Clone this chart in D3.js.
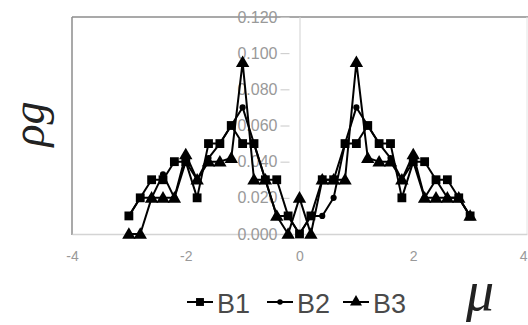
<!DOCTYPE html>
<html>
<head>
<meta charset="utf-8">
<script src="https://cdn.jsdelivr.net/npm/d3@7"></script>
<style>
  html, body { margin: 0; padding: 0; background: #fff; }
  svg { display: block; }
</style>
</head>
<body>
<svg id="chart" width="528" height="325"></svg>
<script>
// mu positions shared by all three series
const mu = [-3.0, -2.8, -2.6, -2.4, -2.2, -2.0, -1.8, -1.6, -1.4, -1.2, -1.0, -0.8, -0.6, -0.4, -0.2, 0.0,
             0.2,  0.4,  0.6,  0.8,  1.0,  1.2,  1.4,  1.6,  1.8,  2.0,  2.2,  2.4,  2.6,  2.8,  3.0];

const B1 = [0.010, 0.020, 0.030, 0.030, 0.040, 0.040, 0.020, 0.050, 0.050, 0.060, 0.050, 0.050, 0.030, 0.030, 0.010, 0.000,
            0.010, 0.030, 0.030, 0.050, 0.050, 0.060, 0.050, 0.050, 0.020, 0.040, 0.040, 0.030, 0.030, 0.020, 0.010];
const B2 = [0.010, 0.020, 0.020, 0.033, 0.020, 0.040, 0.030, 0.042, 0.050, 0.060, 0.070, 0.050, 0.030, 0.010, 0.010, 0.000,
            0.010, 0.010, 0.020, 0.050, 0.070, 0.060, 0.050, 0.042, 0.030, 0.040, 0.020, 0.030, 0.020, 0.020, 0.010];
const B3 = [0.000, 0.000, 0.020, 0.020, 0.020, 0.044, 0.030, 0.040, 0.040, 0.042, 0.095, 0.030, 0.030, 0.010, 0.000, 0.020,
            0.000, 0.030, 0.030, 0.030, 0.095, 0.042, 0.040, 0.040, 0.030, 0.044, 0.020, 0.020, 0.020, 0.020, 0.010];

const seriesNames = ["B1", "B2", "B3"];
const xTicks = [-4, -2, 0, 2, 4];
const yTicks = [0, 0.02, 0.04, 0.06, 0.08, 0.10, 0.12];

const svg = d3.select("#chart");
const plotLeft = 72, plotRight = 527, plotTop = 17, plotBottom = 234;

const x = d3.scaleLinear().domain([-4, 4]).range([plotLeft, plotRight]);
const y = d3.scaleLinear().domain([0, 0.12]).range([plotBottom, plotTop]);

// plot area frame
svg.append("line").attr("x1", plotLeft).attr("x2", 528).attr("y1", plotTop).attr("y2", plotTop)
  .attr("stroke", "#8c8c8c").attr("stroke-width", 1.5);
svg.append("line").attr("x1", plotLeft).attr("x2", plotLeft).attr("y1", plotTop).attr("y2", plotBottom + 1)
  .attr("stroke", "#8c8c8c").attr("stroke-width", 1.5);
svg.append("line").attr("x1", plotRight).attr("x2", plotRight).attr("y1", plotTop).attr("y2", plotBottom)
  .attr("stroke", "#e4e4e4").attr("stroke-width", 1);

// horizontal axis along rho = 0 (plain hyphen for negatives)
const xAxis = d3.axisBottom(x).tickValues(xTicks).tickSize(0).tickPadding(17)
  .tickFormat(d => String(d));
const gx = svg.append("g").attr("transform", `translate(0,${y(0)})`).call(xAxis);
gx.select(".domain").attr("stroke", "#d4d4d4").attr("stroke-width", 1.5);
gx.selectAll("text").attr("font-family", "Liberation Sans, Arial, sans-serif")
  .attr("font-size", 14).attr("fill", "#999");
// last label sits against the right edge
gx.selectAll(".tick").filter(d => d === xTicks[xTicks.length - 1]).select("text")
  .attr("text-anchor", "end").attr("dx", 0);

// vertical axis along mu = 0, labels to its left
const yAxis = d3.axisLeft(y).tickValues(yTicks).tickSize(0).tickPadding(22)
  .tickFormat(d3.format(".3f"));
const gy = svg.append("g").attr("transform", `translate(${x(0)},0)`).call(yAxis);
gy.select(".domain").attr("stroke", "#e0e0e0").attr("stroke-width", 1.5);
gy.selectAll(".tick").append("line")
  .attr("x1", -19).attr("x2", -10).attr("y1", 0).attr("y2", 0)
  .attr("stroke", "#c8c8c8").attr("stroke-width", 1);
gy.selectAll("text").attr("font-family", "Liberation Sans, Arial, sans-serif")
  .attr("font-size", 16).attr("fill", "#999");

// series
const data = [B1, B2, B3].map((vals, i) => ({
  name: seriesNames[i],
  points: mu.map((m, j) => ({ m, v: vals[j] }))
}));
const symbols = [d3.symbolSquare, d3.symbolCircle, d3.symbolTriangle];
const symSizes = [78, 30, 78];

const line = d3.line().x(d => x(d.m)).y(d => y(d.v));

data.forEach((s, i) => {
  const g = svg.append("g");
  g.append("path").attr("d", line(s.points))
    .attr("fill", "none").attr("stroke", "#000").attr("stroke-width", 2)
    .attr("stroke-linejoin", "round");
  g.selectAll("path.mark").data(s.points).enter().append("path")
    .attr("class", "mark")
    .attr("transform", d => `translate(${x(d.m)},${y(d.v) + (i === 2 ? 1 : 0)})`)
    .attr("d", d3.symbol().type(symbols[i]).size(symSizes[i]))
    .attr("fill", "#000");
});

// legend
const legendX = [187, 267, 343];
seriesNames.forEach((n, i) => {
  const g = svg.append("g").attr("transform", `translate(${legendX[i]},302)`);
  g.append("line").attr("x1", 0).attr("x2", 26).attr("y1", 0).attr("y2", 0)
    .attr("stroke", "#000").attr("stroke-width", 2);
  g.append("path").attr("transform", "translate(13,0)")
    .attr("d", d3.symbol().type(symbols[i]).size(symSizes[i] * 0.8))
    .attr("fill", "#000");
  g.append("text").attr("x", 30).attr("y", 11).text(n)
    .attr("font-family", "Liberation Sans, Arial, sans-serif")
    .attr("font-size", 27).attr("fill", "#4a4a4a");
});

// axis titles
svg.append("text").attr("x", 466).attr("y", 310).text("μ")
  .attr("font-family", "Liberation Serif, Times New Roman, serif")
  .attr("font-style", "italic").attr("font-size", 56).attr("fill", "#222");

svg.append("text").attr("transform", "translate(44,124) rotate(-90)")
  .attr("text-anchor", "middle").text("ρg")
  .attr("font-family", "Liberation Serif, Times New Roman, serif")
  .attr("font-style", "italic").attr("font-size", 46).attr("fill", "#222");
</script>
</body>
</html>
